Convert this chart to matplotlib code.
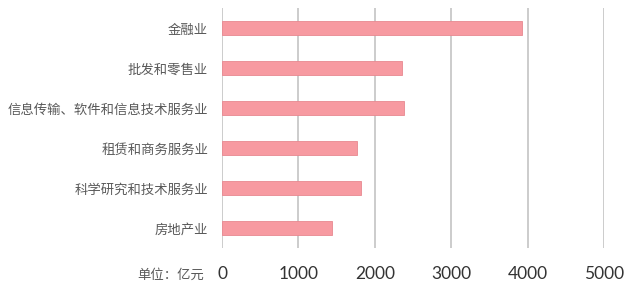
import matplotlib.pyplot as plt
import numpy as np

plt.rcParams['font.family'] = ['Noto Sans CJK SC', 'DejaVu Sans']

# values in 亿元, top to bottom as shown
industries = ["金融业", "批发和零售业", "信息传输、软件和信息技术服务业",
              "租赁和商务服务业", "科学研究和技术服务业", "房地产业"]
amounts = [3925, 2355, 2385, 1765, 1825, 1435]
x_ticks = [0, 1000, 2000, 3000, 4000, 5000]

bar_color = "#F79AA1"
edge_color = "#E88890"
text_color = "#595959"
grid_color = "#BFBFBF"

fig = plt.figure(figsize=(6.32, 2.91), dpi=100)
ax = fig.add_axes([222 / 632, 43 / 291, 382 / 632, 240 / 291])

y = np.arange(len(industries))[::-1]
ax.barh(y, amounts, height=0.35, color=bar_color, edgecolor=edge_color, linewidth=0.6, zorder=3)

ax.set_xlim(0, 5000)
ax.set_ylim(-0.5, len(industries) - 0.5)
ax.set_xticks(x_ticks)
ax.set_xticklabels([str(t) for t in x_ticks], family="Lato", fontsize=12.5, color="#333333")
ax.set_yticks(y)
ax.set_yticklabels(industries, fontsize=9.6, color=text_color)
ax.tick_params(axis="x", length=0, pad=13)
ax.tick_params(axis="y", length=0, pad=10)

ax.grid(axis="x", color=grid_color, linewidth=1.1, zorder=0)
ax.set_axisbelow(True)
for s in ax.spines.values():
    s.set_visible(False)

fig.text(204 / 632, 1 - 275 / 291, "单位：亿元", ha="right", va="center", fontsize=9.6, color=text_color)

fig.savefig("out.png", dpi=100)
